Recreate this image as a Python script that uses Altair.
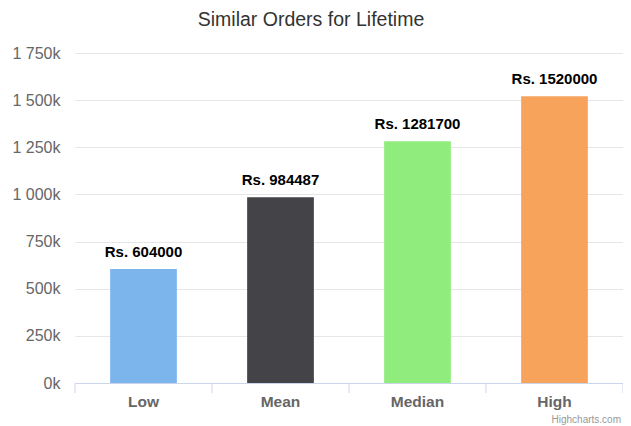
import altair as alt
import pandas as pd

categories = ["Low", "Mean", "Median", "High"]
values = [604000, 984487, 1281700, 1520000]
colors = ["#7cb5ec", "#434348", "#90ed7d", "#f7a35c"]
labels = ["Rs. 604000", "Rs. 984487", "Rs. 1281700", "Rs. 1520000"]

df = pd.DataFrame({"cat": categories, "val": values, "label": labels})
bounds = pd.DataFrame({"b": list(range(len(categories) + 1))})

FONT = "Liberation Sans"
W = 548
H = 330

x = alt.X(
    "cat:N",
    sort=categories,
    title=None,
    scale=alt.Scale(paddingInner=0.513, paddingOuter=0.2565),
    axis=alt.Axis(
        labelAngle=0,
        labelFont=FONT,
        labelFontSize=15.5,
        labelFontWeight="bold",
        labelColor="#666666",
        labelPadding=11,
        domainColor="#ccd6eb",
        ticks=False,
        tickSize=0,
        grid=False,
    ),
)
y = alt.Y(
    "val:Q",
    title=None,
    scale=alt.Scale(domain=[0, 1750000], nice=False),
    axis=alt.Axis(
        values=[0, 250000, 500000, 750000, 1000000, 1250000, 1500000, 1750000],
        labelExpr="replace(format(datum.value/1000, ','), ',', ' ') + 'k'",
        labelFont=FONT,
        labelFontSize=16,
        labelColor="#666666",
        labelPadding=15,
        ticks=False,
        tickSize=0,
        domain=False,
        gridColor="#e6e6e6",
    ),
)

bars = alt.Chart(df).mark_bar().encode(
    x=x,
    y=y,
    color=alt.Color("cat:N", scale=alt.Scale(domain=categories, range=colors), legend=None),
)

text = alt.Chart(df).mark_text(
    font=FONT, fontSize=15, fontWeight="bold", color="#000000", baseline="alphabetic", dy=-12
).encode(x=alt.X("cat:N", sort=categories), y="val:Q", text="label:N")

credits = alt.Chart(pd.DataFrame({"t": ["Highcharts.com"]})).mark_text(
    font=FONT, fontSize=10, color="#999999", align="right", baseline="alphabetic"
).encode(x=alt.value(W - 2), y=alt.value(H + 40), text="t:N")

ticks = alt.Chart(bounds).mark_rule(color="#ccd6eb", strokeWidth=1).encode(
    x=alt.X("b:Q", scale=alt.Scale(domain=[0, len(categories)], nice=False, zero=False), axis=None),
    y=alt.value(H),
    y2=alt.value(H + 10),
)

main = alt.layer(bars, text, credits)

chart = (
    alt.layer(main, ticks)
    .resolve_scale(x="independent")
    .properties(
        width=W,
        height=H,
        padding={"left": 67, "top": 45, "right": 0, "bottom": 43},
        autosize=alt.AutoSizeParams(type="none"),
        title=alt.TitleParams(
            "Similar Orders for Lifetime",
            font=FONT,
            fontSize=19.5,
            fontWeight="normal",
            color="#333333",
            anchor="middle",
            frame="group",
            offset=15,
            dx=-38,
        ),
    )
    .configure_view(stroke=None)
)

chart.save("out.html", embed_options={"renderer": "svg", "actions": False})
